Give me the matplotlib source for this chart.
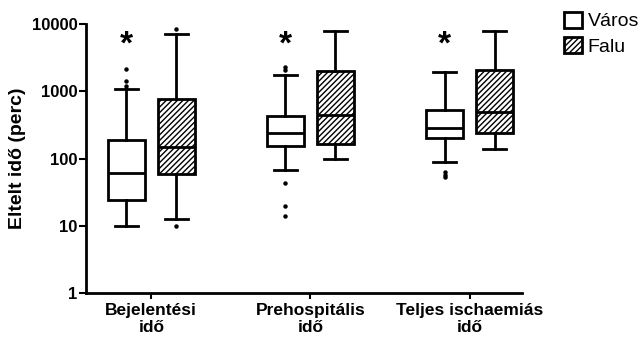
import matplotlib
matplotlib.use("Agg")
import matplotlib.pyplot as plt
from matplotlib.patches import Patch

plt.rcParams['font.family'] = ['Liberation Sans', 'DejaVu Sans']
plt.rcParams['hatch.linewidth'] = 1.0

# kategóriák és csoportok
categories = ['Bejelentési\nidő', 'Prehospitális\nidő', 'Teljes ischaemiás\nidő']
groups = ['Város', 'Falu']

# box-plot értékek (perc), képről leolvasva
varos_whislo = [10, 67, 88]
varos_q1 = [24, 153, 203]
varos_med = [60, 237, 287]
varos_q3 = [188, 433, 526]
varos_whishi = [1080, 1740, 1960]
varos_fliers = [[1200, 1420, 2130], [14, 20, 44, 2070, 2320], [53, 57, 62]]

falu_whislo = [12.6, 98, 138]
falu_q1 = [59, 163, 242]
falu_med = [150, 443, 486]
falu_q3 = [760, 2000, 2070]
falu_whishi = [7030, 7870, 7870]
falu_fliers = [[10, 8500], [], []]

signif = [True, True, True]
star_y = 4900

def make_stats(lo, q1, med, q3, hi, fl):
    return [dict(whislo=a, q1=b, med=c, q3=d, whishi=e, fliers=f)
            for a, b, c, d, e, f in zip(lo, q1, med, q3, hi, fl)]

fig = plt.figure(figsize=(6.39, 3.39), dpi=100)
ax = fig.add_axes([0.1346, 0.1357, 0.817 - 0.1346, 0.929 - 0.1357])

off = 0.157
width = 0.235
lw = 2.0
common = dict(widths=width, patch_artist=True, manage_ticks=False,
              boxprops=dict(linewidth=lw, edgecolor='black'),
              whiskerprops=dict(linewidth=lw, color='black'),
              capprops=dict(linewidth=lw, color='black'),
              medianprops=dict(linewidth=lw, color='black'),
              flierprops=dict(marker='o', markersize=2.2, markerfacecolor='black',
                              markeredgecolor='black', linestyle='none'),
              capwidths=width * 0.62)

pos = list(range(len(categories)))
b1 = ax.bxp(make_stats(varos_whislo, varos_q1, varos_med, varos_q3, varos_whishi, varos_fliers),
            positions=[p - off for p in pos], **common)
b2 = ax.bxp(make_stats(falu_whislo, falu_q1, falu_med, falu_q3, falu_whishi, falu_fliers),
            positions=[p + off for p in pos], **common)
for box in b1['boxes']:
    box.set_facecolor('white')
for box in b2['boxes']:
    box.set_facecolor('white')
    box.set_hatch('//////')

for p, s in zip(pos, signif):
    if s:
        ax.text(p - off, star_y, '*', ha='center', va='center', fontsize=24,
                fontweight='bold')

ax.set_yscale('log')
ax.set_ylim(1, 10000)
ax.set_yticks([1, 10, 100, 1000, 10000])
ax.set_yticklabels(['1', '10', '100', '1000', '10000'])
ax.minorticks_off()
ax.set_xlim(-0.41, 2.33)
ax.set_xticks(pos)
ax.set_xticklabels(categories, fontsize=12.5, fontweight='bold', linespacing=1.2)
for t in ax.get_yticklabels():
    t.set_fontweight('bold')
    t.set_fontsize(12)
ax.set_ylabel('Eltelt idő (perc)', fontsize=14, fontweight='bold', labelpad=4)

for s in ['top', 'right']:
    ax.spines[s].set_visible(False)
for s in ['left', 'bottom']:
    ax.spines[s].set_linewidth(2)
ax.tick_params(axis='y', length=5, width=1.5, pad=1)
ax.tick_params(axis='x', length=4, width=1.5, pad=3)

handles = [Patch(facecolor='white', edgecolor='black', linewidth=2, label='Város'),
           Patch(facecolor='white', edgecolor='black', linewidth=2, hatch='//////', label='Falu')]
fig.legend(handles=handles, loc='upper left', bbox_to_anchor=(0.865, 1.0),
           frameon=False, fontsize=14, handlelength=0.9, handleheight=0.9,
           handletextpad=0.3, labelspacing=0.35, borderaxespad=0.2)

fig.savefig('out.png', dpi=100)
